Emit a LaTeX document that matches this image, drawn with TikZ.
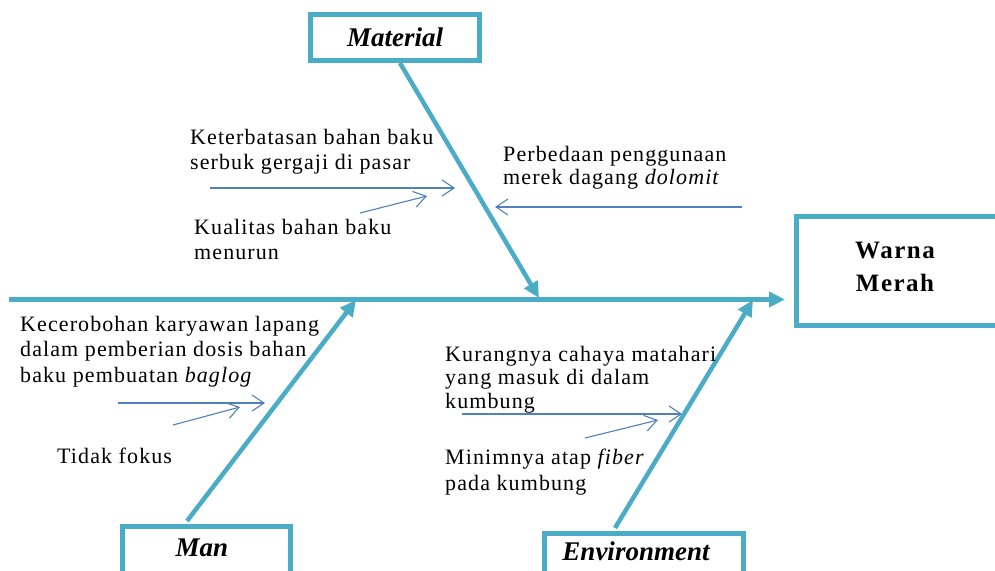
\documentclass[tikz,border=0pt]{standalone}
\usepackage{fontspec}
\setmainfont{Liberation Serif}
\usetikzlibrary{arrows.meta,calc}
\definecolor{bonecol}{HTML}{4BACC6}
\definecolor{thincol}{HTML}{4F81BD}
\tikzset{
 catbox/.style={draw=bonecol, line width=5pt, fill=white, inner sep=0pt},
 bone/.style={draw=bonecol, line width=4.5pt, -{Triangle[length=16pt,width=15pt]}},
 small/.style={draw=thincol, line width=1.1pt, -{Straight Barb[length=12pt,width=16pt,line width=1.1pt]}},
 cause/.style={anchor=north west, align=left, inner sep=0pt, font=\fontsize{22}{25.5}\selectfont\addfontfeature{LetterSpace=5}},
 cattext/.style={font=\fontsize{27}{30}\selectfont\bfseries\itshape, inner sep=0pt},
 efftext/.style={font=\fontsize{25}{33}\selectfont\bfseries\addfontfeature{LetterSpace=6}, align=center, inner sep=0pt},
}
\begin{document}
\begin{tikzpicture}[x=1pt,y=-1pt]
\clip (0,0) rectangle (995,570);
\fill[white] (0,0) rectangle (995,570);

% category boxes
\node[catbox, cattext, minimum width=169pt, minimum height=46pt] (material) at (395,37.5) {Material};
\node[catbox, minimum width=215pt, minimum height=109pt, anchor=north west] (effbox) at (793.5,213.5) {};
\node[efftext] (effect) at (895,267) {Warna\\Merah};
\node[catbox, minimum width=168pt, minimum height=70pt, anchor=north west] (manbox) at (119.5,523.5) {};
\node[cattext] (man) at (202,548) {Man};
\node[catbox, minimum width=199pt, minimum height=70pt, anchor=north west] (envbox) at (541.5,530.5) {};
\node[cattext] (env) at (636,551) {Environment};

% spine and bones
\coordinate (spinestart) at (9,299.5);
\coordinate (spineend) at (785,299.5);
\coordinate (mattip) at (539,298);
\coordinate (mantip) at (356,300);
\coordinate (envtip) at (753,300);
\coordinate (manfoot) at (187,521);
\coordinate (envfoot) at (615,528);
\draw[bone] (spinestart) -- (spineend);
\draw[bone] ([xshift=5pt]material.south) -- (mattip);
\draw[bone] (manfoot) -- (mantip);
\draw[bone] (envfoot) -- (envtip);

% causes
\node[cause] (c1) at (190,129) {Keterbatasan bahan baku\\serbuk gergaji di pasar};
\node[cause] (c2) at (194,219) {Kualitas bahan baku\\menurun};
\node[cause, font=\fontsize{22}{23.5}\selectfont\addfontfeature{LetterSpace=5}] (c3) at (503,146) {Perbedaan penggunaan\\merek dagang \textit{dolomit}};
\node[cause] (c4) at (20,316) {Kecerobohan karyawan lapang\\dalam pemberian dosis bahan\\baku pembuatan \textit{baglog}};
\node[cause] (c5) at (57,448) {Tidak fokus};
\node[cause, font=\fontsize{22}{23.5}\selectfont\addfontfeature{LetterSpace=5}] (c6) at (445,346) {Kurangnya cahaya matahari\\yang masuk di dalam\\kumbung};
\node[cause] (c7) at (445,449) {Minimnya atap \textit{fiber}\\pada kumbung};

% thin arrows
\coordinate (a1s) at (210,188); \coordinate (a1e) at (455,188);
\coordinate (a2s) at (360,213); \coordinate (a2e) at (427,196);
\coordinate (a3s) at (742,207); \coordinate (a3e) at (495,207);
\coordinate (a4s) at (118,403); \coordinate (a4e) at (265,403);
\coordinate (a5s) at (173,425); \coordinate (a5e) at (240,407);
\coordinate (a6s) at (462,414); \coordinate (a6e) at (682,414);
\coordinate (a7s) at (585,438); \coordinate (a7e) at (658,420);
\draw[small] (a1s) -- (a1e);
\draw[small] (a2s) -- (a2e);
\draw[small] (a3s) -- (a3e);
\draw[small] (a4s) -- (a4e);
\draw[small] (a5s) -- (a5e);
\draw[small] (a6s) -- (a6e);
\draw[small] (a7s) -- (a7e);
\end{tikzpicture}
\end{document}
